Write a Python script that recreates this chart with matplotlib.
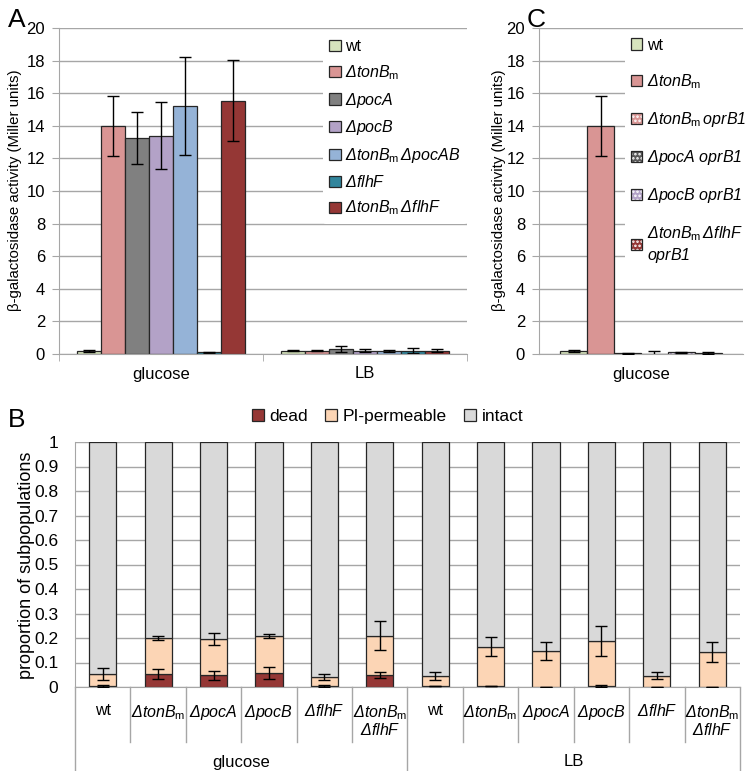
import numpy as np
import matplotlib
matplotlib.use('Agg')
import matplotlib.pyplot as plt
from matplotlib.patches import Patch
from matplotlib.lines import Line2D
import matplotlib.transforms as mtransforms

plt.rcParams['font.family'] = ['Liberation Sans', 'DejaVu Sans']
plt.rcParams['mathtext.fontset'] = 'custom'
plt.rcParams['mathtext.rm'] = 'Liberation Sans:italic'
plt.rcParams['mathtext.it'] = 'Liberation Sans:italic'
plt.rcParams['mathtext.sf'] = 'Liberation Sans'
plt.rcParams['hatch.color'] = 'white'
plt.rcParams['hatch.linewidth'] = 1.2

# ---- panel A data ----
a_media = ['glucose', 'LB']
a_strains = ['wt', r'$\Delta tonB_\mathsf{m}$', r'$\Delta pocA$', r'$\Delta pocB$',
             r'$\Delta tonB_\mathsf{m}\,\Delta pocAB$', r'$\Delta flhF$',
             r'$\Delta tonB_\mathsf{m}\,\Delta flhF$']
a_colors = ['#d7e4bd', '#d99594', '#808080', '#b3a2c7', '#95b3d7', '#31859c', '#953735']
a_glucose = [0.2, 14.0, 13.25, 13.4, 15.2, 0.12, 15.55]
a_glucose_err = [0.05, 1.85, 1.6, 2.05, 3.0, 0.03, 2.5]
a_lb = [0.2, 0.2, 0.3, 0.2, 0.2, 0.2, 0.2]
a_lb_err = [0.03, 0.03, 0.2, 0.1, 0.05, 0.15, 0.1]

# ---- panel C data ----
c_strains = ['wt', r'$\Delta tonB_\mathsf{m}$', r'$\Delta tonB_\mathsf{m}\,oprB1$',
             r'$\Delta pocA\ oprB1$', r'$\Delta pocB\ oprB1$',
             r'$\Delta tonB_\mathsf{m}\,\Delta flhF$' + '\n' + r'$oprB1$']
c_colors = ['#d7e4bd', '#d99594', '#d99594', '#595959', '#b3a2c7', '#953735']
c_hatch = ['', '', '....', '....', '....', '....']
c_glucose = [0.2, 14.0, 0.05, 0.0, 0.1, 0.08]
c_glucose_err = [0.05, 1.85, 0.03, 0.2, 0.05, 0.05]

# ---- panel B data ----
b_labels = ['wt', r'$\Delta tonB_\mathsf{m}$', r'$\Delta pocA$', r'$\Delta pocB$',
            r'$\Delta flhF$', r'$\Delta tonB_\mathsf{m}$' + '\n' + r'$\Delta flhF$'] * 2
b_groups = ['glucose', 'LB']
b_dead = [0.005, 0.052, 0.047, 0.057, 0.005, 0.05, 0.003, 0.003, 0.002, 0.005, 0.002, 0.002]
b_dead_err = [0.003, 0.02, 0.02, 0.025, 0.003, 0.012, 0, 0, 0, 0.003, 0, 0]
b_pi = [0.047, 0.148, 0.148, 0.153, 0.035, 0.16, 0.043, 0.162, 0.145, 0.182, 0.044, 0.141]
b_top_err = [0.025, 0.008, 0.025, 0.008, 0.013, 0.06, 0.017, 0.04, 0.035, 0.06, 0.015, 0.04]

W, H = 750, 771
fig = plt.figure(figsize=(W / 100, H / 100), dpi=100)


def rect(l, r, t, b):
    return [l / W, (H - b) / H, (r - l) / W, (b - t) / H]


grid_c = '#a6a6a6'
edge_c = '#262626'
err_kw = dict(ecolor='black', elinewidth=1, capsize=4, capthick=1)


def style_bar_axis(ax, ymax, step):
    ax.set_ylim(0, ymax)
    ax.set_yticks(np.arange(0, ymax + step / 2, step))
    ax.yaxis.grid(True, color=grid_c, linewidth=1)
    ax.set_axisbelow(True)
    for s in ['top', 'right']:
        ax.spines[s].set_visible(False)
    ax.spines['left'].set_color(grid_c)
    ax.spines['bottom'].set_color(grid_c)
    ax.tick_params(axis='y', length=5, color=grid_c, labelsize=12, pad=5)


def pattern_handles(colors, hatches):
    return [(Patch(facecolor=c, hatch=h, linewidth=0),
             Patch(fill=False, edgecolor=edge_c, linewidth=0.9))
            for c, h in zip(colors, hatches)]


# ---------- A ----------
axA = fig.add_axes(rect(59, 467, 28, 354))
w = 1 / 8.5
for j in range(7):
    xs = np.arange(2) + (j - 3) * w
    vals = [a_glucose[j], a_lb[j]]
    errs = [a_glucose_err[j], a_lb_err[j]]
    axA.bar(xs, vals, w, color=a_colors[j], edgecolor=edge_c, linewidth=0.9,
            yerr=errs, error_kw=err_kw, zorder=2)
axA.set_xlim(-0.5, 1.5)
style_bar_axis(axA, 20, 2)
axA.set_yticklabels([str(v) for v in range(0, 21, 2)])
axA.set_xticks([0, 1])
axA.set_xticklabels(a_media, fontsize=12)
axA.tick_params(axis='x', length=0, pad=9)
axA.set_xticks([-0.5, 0.5, 1.5], minor=True)
axA.tick_params(axis='x', which='minor', length=5, color=grid_c)
legA = axA.legend(pattern_handles(a_colors, [''] * 7), a_strains,
                  loc='upper right', bbox_to_anchor=(1.0, 0.985), fontsize=11.5,
                  handlelength=0.7, handleheight=0.7, handletextpad=0.3,
                  labelspacing=0.55, borderaxespad=0, frameon=True,
                  facecolor='white', edgecolor='none', framealpha=1,
                  borderpad=0.4)
legA.set_zorder(5)
fig.text(15 / W, 1 - 190 / H, 'β-galactosidase activity (Miller units)', rotation=90,
         ha='center', va='center', fontsize=10.8)
fig.text(8 / W, 1 - 20 / H, 'A', fontsize=19, ha='left', va='center')

# ---------- C ----------
axC = fig.add_axes(rect(539, 743, 28, 354))
wc = 0.132
for j in range(6):
    x = (j - 2.5) * wc
    axC.bar([x], [c_glucose[j]], wc, color=c_colors[j], hatch=c_hatch[j],
            linewidth=0, zorder=2)
    axC.bar([x], [c_glucose[j]], wc, fill=False, edgecolor=edge_c, linewidth=0.9,
            yerr=[c_glucose_err[j]], error_kw=err_kw, zorder=3)
axC.set_xlim(-0.5, 0.5)
style_bar_axis(axC, 20, 2)
axC.set_yticklabels([str(v) for v in range(0, 21, 2)])
axC.set_xticks([0])
axC.set_xticklabels(['glucose'], fontsize=12)
axC.tick_params(axis='x', length=0, pad=9)
legC = axC.legend(pattern_handles(c_colors, c_hatch), c_strains,
                  loc='upper left', bbox_to_anchor=(0.42, 0.99),
                  fontsize=11.5, handlelength=0.7, handleheight=0.7, handletextpad=0.3,
                  labelspacing=1.2, borderaxespad=0, frameon=True,
                  facecolor='white', edgecolor='none', framealpha=1, borderpad=0.4)
legC.set_zorder(5)
fig.text(499 / W, 1 - 190 / H, 'β-galactosidase activity (Miller units)', rotation=90,
         ha='center', va='center', fontsize=10.8)
fig.text(527 / W, 1 - 20 / H, 'C', fontsize=19, ha='left', va='center')

# ---------- B ----------
axB = fig.add_axes(rect(75, 740, 442, 687))
xb = np.arange(12)
dead = np.array(b_dead)
pi = np.array(b_pi)
top = dead + pi
intact = 1 - top
wb = 0.49
axB.bar(xb, dead, wb, color='#953735', edgecolor=edge_c, linewidth=0.9,
        label='dead', zorder=2)
axB.bar(xb, pi, wb, bottom=dead, color='#fcd5b5', edgecolor=edge_c, linewidth=0.9,
        label='PI-permeable', zorder=2)
axB.bar(xb, intact, wb, bottom=top, color='#d9d9d9', edgecolor=edge_c, linewidth=0.9,
        label='intact', zorder=2)
axB.errorbar(xb, top, yerr=b_top_err, fmt='none', zorder=4, **err_kw)
axB.errorbar(xb, dead, yerr=b_dead_err, fmt='none', zorder=4, **err_kw)
axB.set_xlim(-0.5, 11.5)
style_bar_axis(axB, 1, 0.1)
axB.set_yticklabels(['0', '0.1', '0.2', '0.3', '0.4', '0.5', '0.6', '0.7', '0.8',
                     '0.9', '1'])
axB.tick_params(axis='y', length=0, pad=12, labelsize=12.5)
axB.set_xticks([])
trans = mtransforms.blended_transform_factory(axB.transData, axB.transAxes)
axh = 687 - 442
for k in range(13):
    xk = k - 0.5
    low = -84 / axh if k in (0, 6, 12) else -55 / axh
    axB.add_line(Line2D([xk, xk], [0, low], transform=trans, color=grid_c,
                        linewidth=1, clip_on=False))
for i, lab in enumerate(b_labels):
    axB.text(i, -16 / axh, lab, transform=trans, ha='center', va='top',
             fontsize=11.5, linespacing=1.0)
for g, name in enumerate(b_groups):
    axB.text(2.5 + 6 * g, -75 / axh, name, transform=trans, ha='center',
             va='center', fontsize=12)
axB.legend(loc='lower center', bbox_to_anchor=(0.47, 1.045), ncol=3, fontsize=12.5,
           handlelength=0.7, handleheight=0.7, handletextpad=0.3, columnspacing=1.0,
           frameon=False, borderaxespad=0)
fig.text(27 / W, 1 - 565 / H, 'proportion of subpopulations', rotation=90,
         ha='center', va='center', fontsize=13)
fig.text(8 / W, 1 - 420 / H, 'B', fontsize=19, ha='left', va='center')

fig.savefig('out.png', dpi=100)
